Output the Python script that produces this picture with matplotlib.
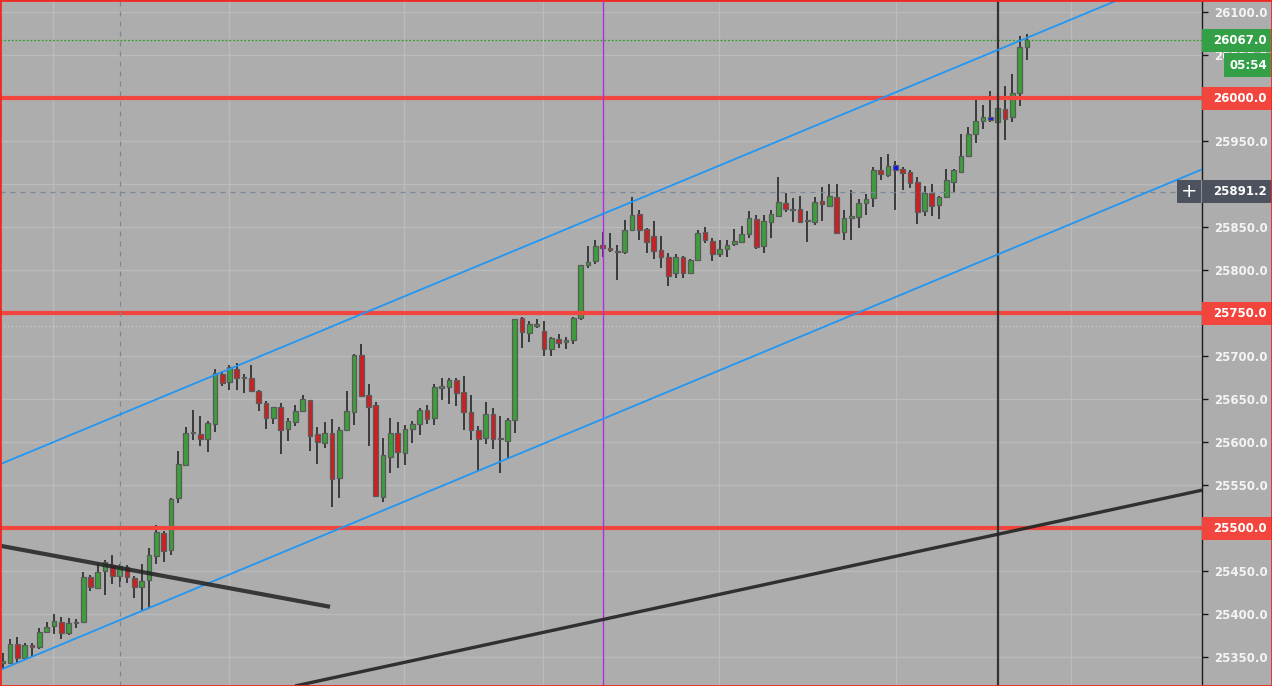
import matplotlib
matplotlib.use("Agg")
import matplotlib.pyplot as plt
import matplotlib.transforms as mtransforms
from matplotlib.patches import Rectangle
import numpy as np

# OHLC per bar
opens = [25343.4, 25343.4, 25364.7, 25349.2, 25363.5, 25361.2, 25379.5, 25385.7, 25390.3, 25377.5,
         25389.1, 25390.3, 25442.6, 25429.8, 25449.6, 25456.6, 25443.8, 25454.3, 25441.5, 25431.8,
         25439.2, 25467.0, 25493.8, 25474.0, 25534.5, 25573.5, 25610.5, 25608.9, 25603.1, 25620.5,
         25679.1, 25669.4, 25684.5, 25674.0, 25674.0, 25659.3, 25645.0, 25627.5, 25640.3, 25614.7,
         25623.6, 25635.7, 25648.8, 25608.9, 25598.4, 25610.1, 25557.8, 25614.0, 25635.3, 25701.2,
         25654.7, 25643.0, 25536.4, 25582.9, 25610.1, 25587.6, 25614.7, 25620.5, 25637.2, 25627.5,
         25663.2, 25663.6, 25672.1, 25657.8, 25634.5, 25614.0, 25605.0, 25632.2, 25603.9, 25601.6,
         25625.6, 25743.8, 25726.3, 25735.3, 25729.5, 25707.7, 25719.4, 25715.9, 25718.2, 25743.8,
         25805.4, 25810.1, 25828.7, 25825.2, 25822.5, 25820.5, 25846.1, 25864.7, 25847.3, 25839.2,
         25823.3, 25815.5, 25796.1, 25814.7, 25796.1, 25811.6, 25843.8, 25833.7, 25818.2, 25824.0,
         25829.8, 25833.0, 25841.5, 25858.9, 25828.3, 25855.4, 25863.2, 25877.5, 25870.5, 25870.5,
         25857.0, 25856.2, 25879.8, 25874.0, 25884.9, 25843.8, 25860.9, 25861.2, 25878.3, 25883.3,
         25916.3, 25910.1, 25921.7, 25917.1, 25913.6, 25901.9, 25869.0, 25889.9, 25875.2, 25884.5,
         25902.7, 25914.3, 25933.0, 25958.5, 25972.9, 25977.5, 25971.7, 25986.8, 25977.5, 26005.4,
         26059.7]
highs = [25354.3, 25370.9, 25372.9, 25366.7, 25366.7, 25383.3, 25390.3, 25399.6, 25396.5, 25395.3,
         25393.8, 25448.4, 25445.0, 25457.7, 25462.4, 25468.6, 25457.7, 25456.6, 25443.8, 25457.7,
         25477.1, 25503.1, 25496.1, 25535.3, 25589.3, 25617.0, 25637.0, 25630.2, 25624.4, 25684.5,
         25682.9, 25689.5, 25691.5, 25678.7, 25689.5, 25660.5, 25647.7, 25640.8, 25645.0, 25627.5,
         25643.0, 25654.7, 25649.2, 25617.0, 25622.9, 25626.4, 25617.8, 25659.3, 25702.0, 25714.0,
         25667.4, 25646.9, 25605.0, 25627.5, 25622.9, 25619.8, 25624.8, 25639.1, 25643.0, 25667.1,
         25674.0, 25674.8, 25674.0, 25676.7, 25654.7, 25618.6, 25646.9, 25639.1, 25630.2, 25627.5,
         25743.0, 25745.7, 25740.7, 25742.6, 25740.7, 25722.5, 25725.6, 25721.7, 25745.0, 25805.8,
         25827.9, 25834.9, 25844.2, 25842.6, 25829.1, 25858.1, 25884.5, 25869.8, 25848.4, 25857.0,
         25839.5, 25819.4, 25818.2, 25816.7, 25812.4, 25846.5, 25850.4, 25836.8, 25834.9, 25834.9,
         25847.7, 25851.2, 25868.6, 25863.9, 25863.9, 25869.8, 25907.8, 25889.1, 25883.3, 25886.0,
         25868.6, 25884.5, 25896.1, 25900.0, 25899.6, 25869.8, 25893.0, 25882.2, 25888.4, 25920.2,
         25931.8, 25934.9, 25927.1, 25920.2, 25916.3, 25908.5, 25897.7, 25900.0, 25886.4, 25917.4,
         25917.4, 25957.8, 25965.9, 25997.7, 25991.9, 26008.1, 25997.7, 26014.0, 26027.9, 26072.1,
         26074.0]
lows = [25336.8, 25341.5, 25343.4, 25348.5, 25350.4, 25358.9, 25377.5, 25376.3, 25370.5, 25375.2,
        25383.3, 25389.1, 25427.1, 25428.7, 25422.5, 25434.5, 25431.0, 25436.4, 25419.0, 25403.9,
        25406.6, 25458.5, 25460.1, 25468.2, 25529.5, 25572.5, 25602.5, 25595.7, 25588.7, 25612.0,
        25665.5, 25660.5, 25660.5, 25657.4, 25658.5, 25636.0, 25615.1, 25620.5, 25586.0, 25601.6,
        25618.6, 25635.3, 25590.0, 25574.4, 25593.4, 25524.8, 25535.3, 25612.8, 25619.7, 25653.5,
        25595.3, 25536.4, 25530.2, 25564.3, 25570.1, 25573.3, 25599.2, 25608.1, 25620.9, 25619.8,
        25648.8, 25644.2, 25641.9, 25614.0, 25602.3, 25566.3, 25597.7, 25591.9, 25564.3, 25579.8,
        25610.8, 25708.9, 25716.7, 25732.2, 25700.4, 25700.4, 25708.9, 25707.7, 25713.6, 25741.9,
        25801.9, 25806.6, 25815.5, 25820.5, 25788.7, 25818.6, 25845.5, 25834.9, 25820.1, 25812.4,
        25801.9, 25781.4, 25791.1, 25791.1, 25795.0, 25810.9, 25831.0, 25810.9, 25814.7, 25814.7,
        25827.9, 25832.2, 25836.8, 25824.0, 25820.2, 25837.6, 25862.8, 25867.8, 25856.2, 25854.3,
        25833.0, 25852.3, 25857.0, 25873.6, 25841.9, 25834.9, 25834.9, 25849.4, 25864.0, 25873.6,
        25904.7, 25908.5, 25869.8, 25893.0, 25895.0, 25853.5, 25863.2, 25862.8, 25859.3, 25884.0,
        25890.3, 25914.0, 25932.8, 25948.1, 25964.0, 25972.5, 25914.3, 25951.2, 25972.5, 25991.1,
        26044.2]
closes = [25344.0, 25364.7, 25349.2, 25363.5, 25361.2, 25378.7, 25384.5, 25391.5, 25377.5, 25389.1,
          25389.5, 25442.6, 25431.0, 25448.4, 25460.1, 25443.8, 25455.4, 25442.6, 25431.0, 25438.0,
          25468.2, 25495.0, 25472.9, 25533.5, 25574.0, 25610.1, 25611.2, 25603.1, 25621.7, 25679.8,
          25668.2, 25686.8, 25674.0, 25674.5, 25659.7, 25645.0, 25628.3, 25640.3, 25613.9, 25624.4,
          25636.0, 25649.6, 25607.4, 25599.6, 25610.1, 25556.6, 25614.0, 25636.0, 25701.2, 25653.9,
          25640.3, 25537.6, 25584.9, 25610.1, 25588.0, 25614.7, 25620.5, 25637.2, 25626.4, 25663.6,
          25663.8, 25672.1, 25656.6, 25634.5, 25614.0, 25603.1, 25632.2, 25603.1, 25603.6, 25625.6,
          25742.6, 25727.5, 25736.8, 25735.6, 25707.7, 25720.5, 25714.7, 25718.2, 25743.8, 25805.4,
          25808.9, 25827.5, 25825.2, 25822.9, 25821.0, 25846.1, 25863.6, 25846.1, 25832.2, 25821.7,
          25815.5, 25793.4, 25814.7, 25796.1, 25811.6, 25842.6, 25834.9, 25818.2, 25824.0, 25828.7,
          25833.7, 25841.5, 25860.1, 25827.1, 25857.0, 25864.7, 25878.7, 25870.5, 25869.4, 25855.4,
          25856.5, 25878.7, 25876.4, 25885.7, 25843.6, 25860.1, 25861.2, 25877.9, 25882.2, 25916.3,
          25911.2, 25920.9, 25916.3, 25912.4, 25900.8, 25867.8, 25889.1, 25874.4, 25884.5, 25904.7,
          25916.3, 25932.6, 25957.8, 25973.3, 25977.5, 25974.0, 25988.0, 25975.2, 26005.4, 26059.7,
          26067.0]
blue_bars = [84, 122, 135]

# horizontal levels and drawings
red_levels = [26000.0, 25750.0, 25500.0]
last_price = 26067.0
crosshair_price = 25891.2
crosshair_bar = 16
prev_close = 25735.0
purple_bar = 82
black_bar = 136
countdown = "05:54"
upper_channel = ([-0.37, 163.93], [25574.1, 26154.5])
lower_channel = ([-0.37, 163.93], [25334.9, 25917.0])
black_line_1 = ([-0.37, 44.74], [25479.4, 25408.4])
black_line_2 = ([39.95, 163.93], [25316.3, 25544.0])
time_grid = [6.87, 30.9, 54.9, 73.9, 97.9, 122.1, 146.0]
price_ticks = np.arange(25350, 26101, 50)

BG = '#adadad'
RED = '#f2453d'
GREEN_LBL = '#33a047'

fig = plt.figure(figsize=(12.72, 6.86), dpi=100)
fig.patch.set_facecolor(BG)
ax = fig.add_axes([0, 0, 1202 / 1272, 1])
ax.set_facecolor(BG)

n = len(opens)
idx = np.arange(n)
o = np.array(opens); h = np.array(highs); l = np.array(lows); c = np.array(closes)

# grid
for p in price_ticks:
    ax.axhline(p, color='#bbbbbb', lw=1, zorder=0)
for g in time_grid:
    ax.axvline(g, color='#bbbbbb', lw=1, zorder=0)

# candles
colors = []
for i in range(n):
    if i in blue_bars:
        colors.append('#1010ff')
    elif c[i] >= o[i]:
        colors.append('#3c9f3c')
    else:
        colors.append('#cc2020')
ax.vlines(idx, l, h, color='#1c1c1c', lw=1.1, zorder=3)
body_low = np.minimum(o, c)
body_h = np.maximum(np.abs(c - o), 1.5)
ax.bar(idx, body_h, bottom=body_low, width=0.64, color=colors,
       edgecolor='#5a5a5a', linewidth=0.9, zorder=4)

# levels
for lv in red_levels:
    ax.axhline(lv, color=RED, lw=3, zorder=5)
ax.axhline(last_price, color='#2aa02a', lw=0.9, ls=(0, (1.5, 1.5)), zorder=5)
ax.axhline(prev_close, color='#cccccc', lw=0.9, ls=(0, (1, 2)), zorder=2)
ax.axhline(crosshair_price, color='#7a8896', lw=0.9, ls=(0, (4, 4)), zorder=6)
ax.axvline(crosshair_bar, color='#7a8896', lw=0.9, ls=(0, (4, 4)), zorder=6)
ax.axvline(purple_bar, color='#b030e0', lw=1.0, zorder=6)
ax.axvline(black_bar, color='#333333', lw=1.6, zorder=6)

# trend lines
ax.plot(*upper_channel, color='#2196f3', lw=1.3, zorder=6)
ax.plot(*lower_channel, color='#2196f3', lw=1.3, zorder=6)
ax.plot(*black_line_1, color='#222222', lw=3.0, alpha=0.85, zorder=6, solid_capstyle='butt')
ax.plot(*black_line_2, color='#222222', lw=2.4, alpha=0.9, zorder=6, solid_capstyle='butt')

ax.set_xlim(-0.37, 163.93)
ax.set_ylim(25316.3, 26113.95)

# right price axis
ax.yaxis.tick_right()
ax.set_yticks(price_ticks)
ax.set_yticklabels(['%.1f' % p for p in price_ticks])
ax.tick_params(axis='y', length=4, width=1, color='#1a1a1a', pad=5, labelcolor='#f4f4f4')
for lab in ax.get_yticklabels():
    lab.set_fontfamily('DejaVu Sans')
    lab.set_fontweight('bold')
    lab.set_fontsize(8.5)
ax.set_xticks([])
for s in ['left', 'top', 'bottom']:
    ax.spines[s].set_visible(False)
ax.spines['right'].set_color('#1a1a1a')
ax.spines['right'].set_linewidth(1)

# price labels with boxes
tr = mtransforms.blended_transform_factory(ax.transAxes, ax.transData)
px = 1.0 / 1202  # one pixel in axes fraction
upp = (26113.95 - 25316.3) / 686  # price units per pixel
xr = 1272 / 1202


def price_box(price, text, color, x0=1.0, tx=1.0 + 11 * px, hpx=23):
    hh = hpx * upp
    ax.add_patch(Rectangle((x0, price - hh / 2), xr - x0, hh, transform=tr,
                           facecolor=color, edgecolor='none', clip_on=False, zorder=10))
    ax.text(tx, price, text, transform=tr, ha='left', va='center', color='white',
            fontsize=8.5, fontweight='bold', fontfamily='DejaVu Sans', clip_on=False, zorder=11)


for lv in red_levels:
    price_box(lv, '%.1f' % lv, RED)
price_box(last_price, '%.1f' % last_price, GREEN_LBL)
price_box(last_price - 25 * upp, countdown, GREEN_LBL, x0=1.0 + 22 * px, tx=1.0 + 28 * px, hpx=24)
price_box(crosshair_price, '%.1f' % crosshair_price, '#4c525e')
# crosshair "+" button
hh = 23 * upp
ax.add_patch(Rectangle((1 - 25 * px, crosshair_price - hh / 2), 24 * px, hh, transform=tr,
                       facecolor='#4c525e', edgecolor='none', clip_on=False, zorder=10))
ax.text(1 - 13 * px, crosshair_price, '+', transform=tr, ha='center', va='center',
        color='white', fontsize=14, clip_on=False, zorder=11)

# red frame around the whole widget
fig.add_artist(Rectangle((0, 0), 1, 1, transform=fig.transFigure, fill=False,
                         edgecolor='#ee2a22', lw=2, zorder=20))

fig.savefig('out.png', dpi=100, facecolor=BG)
